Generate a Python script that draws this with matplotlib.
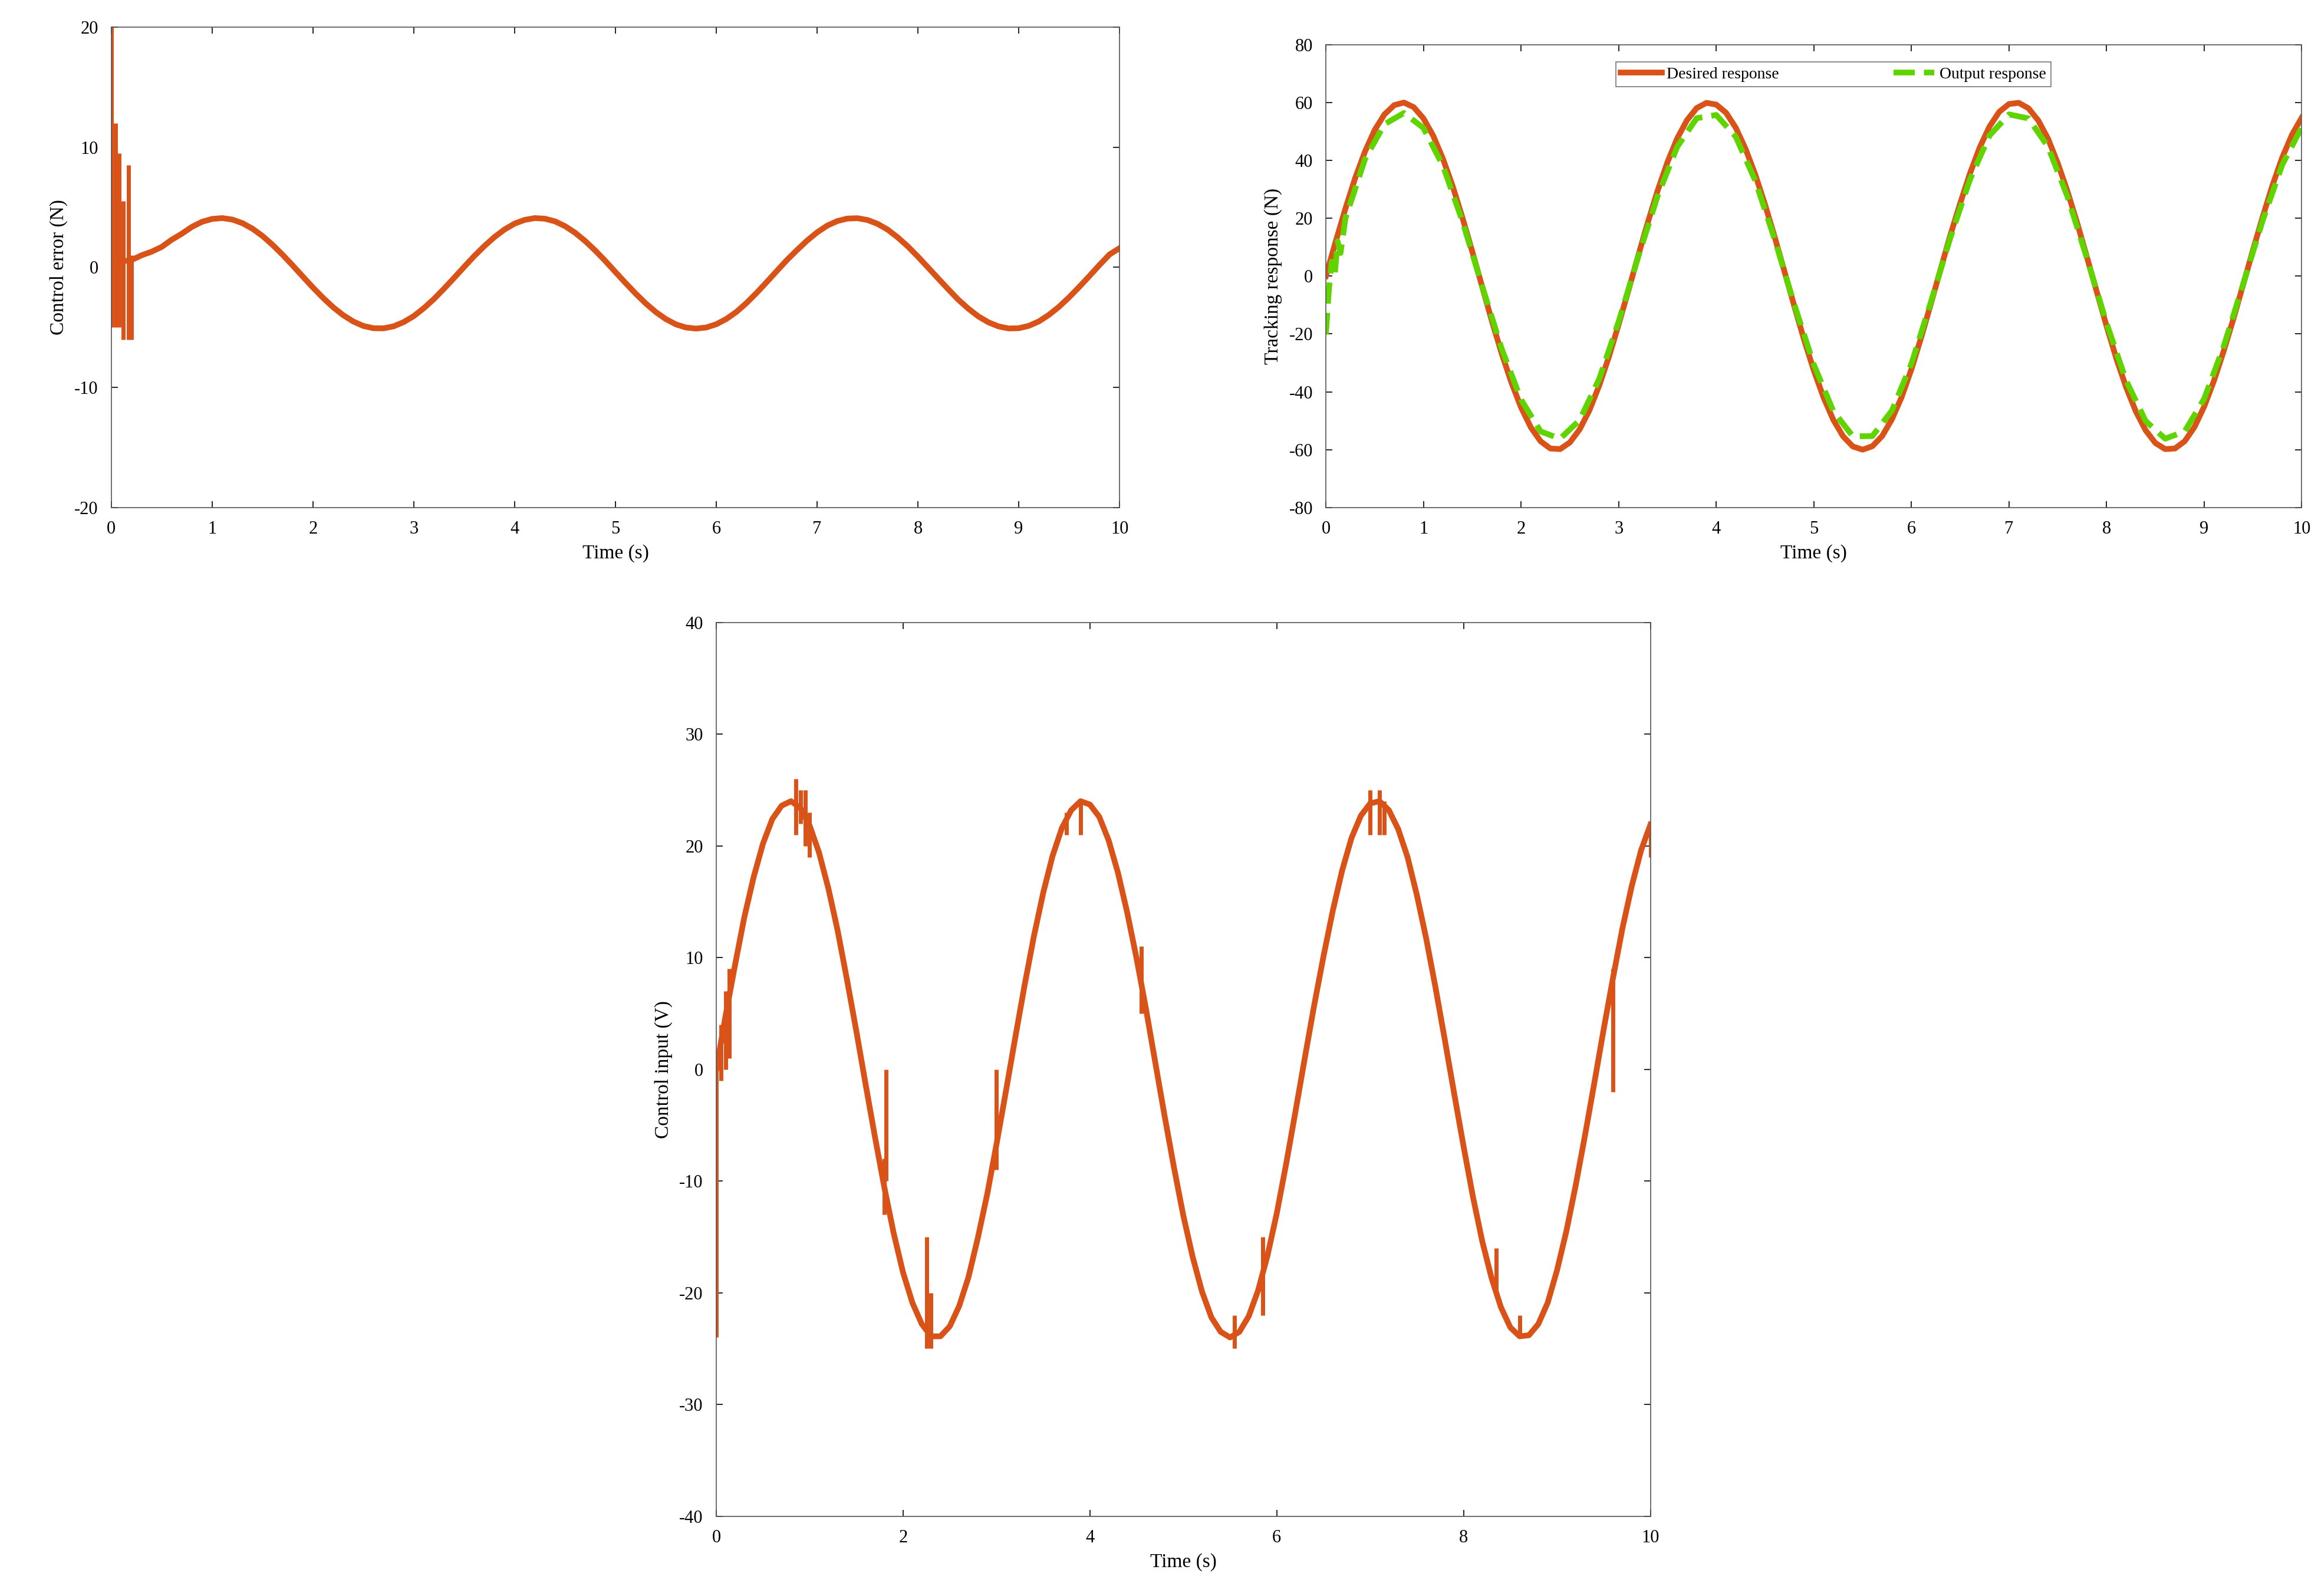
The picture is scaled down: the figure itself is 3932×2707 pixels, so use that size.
import numpy as np
import matplotlib
matplotlib.use("Agg")
import matplotlib.pyplot as plt

plt.rcParams['font.family'] = ['Liberation Serif', 'DejaVu Serif']
plt.rcParams['axes.unicode_minus'] = False

RED = '#D95319'
GREEN = '#5FD400'

t = [round(i * 0.1, 1) for i in range(101)]

desired = [0,11.9,23.3,33.9,43.0,50.5,55.9,59.1,60.0,58.4,54.5,48.5,40.5,31.0,20.1,8.5,-3.5,-15.4,-26.6,-36.7,
           -45.4,-52.3,-57.1,-59.6,-59.8,-57.5,-53.0,-46.4,-37.9,-27.9,-16.7,-5.0,7.0,18.7,29.6,39.4,47.6,53.9,58.1,59.9,
           59.3,56.5,51.3,44.0,35.1,24.7,13.4,1.5,-10.4,-22.0,-32.6,-42.0,-49.7,-55.4,-58.9,-60.0,-58.8,-55.3,-49.5,-41.8,
           -32.2,-21.2,-9.5,2.5,14.3,25.2,35.5,44.5,51.7,56.8,59.5,59.9,58.0,53.8,47.5,39.0,29.2,18.2,6.4,-5.5,
           -17.3,-28.5,-38.4,-46.8,-53.3,-57.7,-59.8,-59.6,-57.1,-52.2,-45.1,-36.2,-25.9,-14.7,-2.9,9.0,20.5,31.4,41.0,48.9,54.8]

t_out = [0,0.03,0.06,0.09,0.12,0.15,0.2] + [round(0.4 + 0.2 * i, 1) for i in range(49)]
output = [-20,-5,5,0,12,8,20,
          40.4,52.5,56.4,51.2,38.1,18.9,-3.3,-25.0,-42.7,-53.7,-56.2,-49.8,-35.6,-15.7,6.6,27.8,44.7,54.6,55.7,48.2,
          33.0,12.6,-9.8,-30.6,-46.7,-55.4,-55.3,-46.5,-30.3,-8.9,13.4,33.4,48.6,55.9,54.5,44.7,27.4,6.0,-16.3,-36.1,
          -50.1,-56.2,-53.7,-42.4,-24.3,-2.7,19.3,38.5,51.5]

error = [0.5,0.5,0.6,1.0,1.3,1.7,2.3,2.80,3.37,3.79,4.03,4.10,3.98,3.68,3.22,2.61,1.87,1.04,0.15,-0.77,
         -1.68,-2.54,-3.32,-3.98,-4.51,-4.88,-5.07,-5.08,-4.91,-4.56,-4.06,-3.40,-2.64,-1.78,-0.88,0.04,0.94,1.77,2.52,3.15,
         3.64,3.95,4.10,4.05,3.83,3.43,2.88,2.19,1.40,0.53,-0.39,-1.30,-2.18,-3.00,-3.72,-4.31,-4.75,-5.01,-5.10,-5.01,
         -4.74,-4.30,-3.71,-2.97,-2.13,-1.23,-0.31,0.60,1.43,2.22,2.91,3.47,3.85,4.06,4.09,3.94,3.62,3.14,2.49,1.74,
         0.89,-0.01,-0.92,-1.82,-2.69,-3.44,-4.09,-4.58,-4.92,-5.09,-5.07,-4.87,-4.50,-3.95,-3.28,-2.49,-1.63,-0.73,0.19,1.07,1.6]
err_spike_t = [0.0, 0.04, 0.08, 0.12, 0.17, 0.2]
err_spike_lo = [-5, -5, -5, -6, -6, -6]
err_spike_hi = [20, 12, 9.5, 5.5, 8.5, 1]

u = [0,4.8,9.3,13.6,17.2,20.2,22.4,23.6,24.0,23.4,21.8,19.4,16.2,12.4,8.0,3.4,-1.4,-6.1,-10.6,-14.7,
     -18.2,-20.9,-22.8,-23.9,-23.9,-23.0,-21.2,-18.6,-15.1,-11.2,-6.7,-2.0,2.8,7.5,11.9,15.8,19.1,21.6,23.2,24.0,
     23.7,22.6,20.5,17.6,14.0,9.9,5.4,0.6,-4.2,-8.8,-13.1,-16.8,-19.9,-22.2,-23.5,-24.0,-23.5,-22.1,-19.8,-16.7,
     -12.9,-8.5,-3.8,1.0,5.7,10.1,14.2,17.8,20.7,22.7,23.8,24.0,23.2,21.5,19.0,15.6,11.7,7.3,2.6,-2.2,
     -6.9,-11.4,-15.4,-18.7,-21.3,-23.1,-23.9,-23.8,-22.8,-20.9,-18.0,-14.5,-10.4,-5.9,-1.2,3.6,8.2,12.6,16.4,19.6,21.9]
u_spike_t = [0.0,0.05,0.1,0.14,0.85,0.9,0.95,1.0,1.8,1.82,2.25,2.3,3.0,3.75,3.9,4.55,5.55,5.85,7.0,7.1,7.15,8.35,8.6,9.6,10.0]
u_spike_lo = [-24,-1,0,1,21,22,20,19,-13,-10,-25,-25,-9,21,21,5,-25,-22,21,21,21,-20,-24,-2,19]
u_spike_hi = [0,4,7,9,26,25,25,23,-8,0,-15,-20,0,23,24,11,-22,-15,25,25,24,-16,-22,9,22]

fig = plt.figure(figsize=(19.66, 13.535), dpi=200)
ax1 = fig.add_axes([0.048, 0.682, 0.435, 0.301])
ax2 = fig.add_axes([0.572, 0.682, 0.421, 0.290])
ax3 = fig.add_axes([0.309, 0.050, 0.403, 0.560])

def style(ax):
    ax.tick_params(direction='in', top=True, right=True, labelsize=11, length=4, width=0.6, pad=8)
    for s in ax.spines.values():
        s.set_linewidth(0.6)
        s.set_color('#555555')

ax1.plot(t, error, color=RED, lw=3.5, solid_joinstyle='round')
ax1.vlines(err_spike_t, err_spike_lo, err_spike_hi, color=RED, lw=2.5)
ax1.set_xlim(0, 10); ax1.set_ylim(-20, 20)
ax1.set_xticks(range(0, 11)); ax1.set_yticks([-20, -10, 0, 10, 20])
ax1.set_xlabel('Time (s)', fontsize=12); ax1.set_ylabel('Control error (N)', fontsize=12)
style(ax1)

ax2.plot(t, desired, color=RED, lw=3.5, label='Desired response', solid_joinstyle='round')
ax2.plot(t_out, output, color=GREEN, lw=3.5, ls='--', label='Output response')
ax2.set_xlim(0, 10); ax2.set_ylim(-80, 80)
ax2.set_xticks(range(0, 11)); ax2.set_yticks(range(-80, 81, 20))
ax2.set_xlabel('Time (s)', fontsize=12); ax2.set_ylabel('Tracking response (N)', fontsize=12)
ax2.legend(loc='upper center', ncol=2, fontsize=10, frameon=True, fancybox=False, edgecolor='#555555',
           bbox_to_anchor=(0.52, 0.98), columnspacing=7, handlelength=2.5, borderpad=0.3,
           handletextpad=0.3).get_frame().set_linewidth(0.6)
style(ax2)

ax3.plot(t, u, color=RED, lw=3.5, solid_joinstyle='round')
ax3.vlines(u_spike_t, u_spike_lo, u_spike_hi, color=RED, lw=2.5)
ax3.set_xlim(0, 10); ax3.set_ylim(-40, 40)
ax3.set_xticks(range(0, 11, 2)); ax3.set_yticks(range(-40, 41, 10))
ax3.set_xlabel('Time (s)', fontsize=12); ax3.set_ylabel('Control input (V)', fontsize=12)
style(ax3)

fig.savefig('out.png', dpi=200)
